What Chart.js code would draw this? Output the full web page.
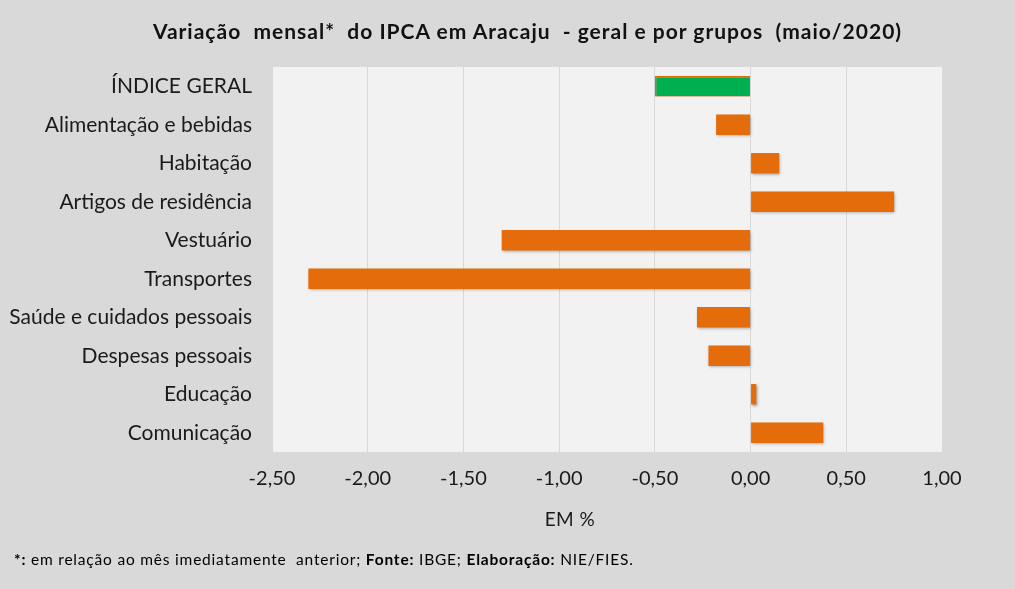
<!DOCTYPE html>
<html lang="pt-BR">
<head>
<meta charset="utf-8">
<title>IPCA Aracaju - maio/2020</title>
<script src="https://cdn.jsdelivr.net/npm/chart.js@4/dist/chart.umd.min.js"></script>
<style>
    html, body {
        margin: 0;
        padding: 0;
        background: #d9d9d9;
    }
    #wrap {
        position: relative;
        width: 1015px;
        height: 589px;
    }
    #title {
        position: absolute;
        left: 0;
        width: 1055px;
        top: 18px;
        text-align: center;
        font-family: Lato, "Open Sans", sans-serif;
        font-size: 21px;
        font-weight: bold;
        letter-spacing: 1px;
        color: #111;
        white-space: pre;
    }
    #axisTitle {
        position: absolute;
        left: 470px;
        width: 200px;
        top: 507px;
        text-align: center;
        font-family: Lato, "Open Sans", sans-serif;
        font-size: 19px;
        letter-spacing: 0.5px;
        color: #1a1a1a;
    }
    #note {
        position: absolute;
        left: 14px;
        top: 550px;
        font-family: Lato, "Open Sans", sans-serif;
        font-size: 15.5px;
        letter-spacing: 0.8px;
        color: #000;
        white-space: pre;
    }
</style>
</head>
<body>
<div id="wrap">
    <canvas id="chart" width="1015" height="589"></canvas>
    <div id="title">Variação  mensal*  do IPCA em Aracaju  - geral e por grupos  (maio/2020)</div>
    <div id="axisTitle">EM %</div>
    <div id="note"><b>*:</b> em relação ao mês imediatamente  anterior; <b>Fonte:</b> IBGE; <b>Elaboração:</b> NIE/FIES.</div>
</div>
<script>
const categories = [
    'ÍNDICE GERAL',
    'Alimentação e bebidas',
    'Habitação',
    'Artigos de residência',
    'Vestuário',
    'Transportes',
    'Saúde e cuidados pessoais',
    'Despesas pessoais',
    'Educação',
    'Comunicação'
];
const variation = [-0.50, -0.18, 0.15, 0.75, -1.30, -2.31, -0.28, -0.22, 0.03, 0.38];
const xTicks = [-2.5, -2.0, -1.5, -1.0, -0.5, 0, 0.5, 1.0];

const ORANGE = '#e46c0a';
const GREEN = '#00b050';
const TEXT = '#1a1a1a';
const FONT = 'Lato, "Open Sans", sans-serif';

// plot area background + soft shadow under bars
const plotBackground = {
    id: 'plotBackground',
    beforeDraw(chart) {
        const { ctx, chartArea } = chart;
        ctx.save();
        ctx.fillStyle = '#f2f2f2';
        ctx.fillRect(chartArea.left, chartArea.top, chartArea.right - chartArea.left, chartArea.bottom - chartArea.top);
        ctx.restore();
    },
    beforeDatasetsDraw(chart) {
        const ctx = chart.ctx;
        ctx.save();
        ctx.shadowColor = 'rgba(0, 0, 0, 0.35)';
        ctx.shadowBlur = 3;
        ctx.shadowOffsetX = 1;
        ctx.shadowOffsetY = 1.5;
    },
    afterDatasetsDraw(chart) {
        chart.ctx.restore();
    }
};

new Chart(document.getElementById('chart'), {
    type: 'bar',
    data: {
        labels: categories,
        datasets: [{
            data: variation,
            backgroundColor: variation.map((v, i) => i === 0 ? GREEN : ORANGE),
            borderColor: ORANGE,
            borderWidth: variation.map((v, i) => i === 0 ? 1.5 : 0),
            categoryPercentage: 1,
            barPercentage: 0.53
        }]
    },
    options: {
        indexAxis: 'y',
        responsive: false,
        animation: false,
        layout: {
            padding: { left: 0, right: 73, top: 67, bottom: 50 }
        },
        plugins: {
            legend: { display: false },
            tooltip: { enabled: false },
            title: { display: false }
        },
        scales: {
            x: {
                min: -2.5,
                max: 1.0,
                afterBuildTicks(scale) {
                    scale.ticks = xTicks.map(v => ({ value: v }));
                },
                afterFit(scale) {
                    scale.height = 87;
                },
                grid: {
                    color: '#d9d9d9',
                    lineWidth: 1,
                    drawTicks: false
                },
                border: { display: false },
                ticks: {
                    color: TEXT,
                    padding: 15,
                    font: { family: FONT, size: 20 },
                    callback: v => v.toFixed(2).replace('.', ',')
                }
            },
            y: {
                afterFit(scale) {
                    scale.width = 272;
                },
                grid: { display: false },
                border: { display: false },
                ticks: {
                    color: TEXT,
                    padding: 12,
                    font: { family: FONT, size: 21 }
                }
            }
        }
    },
    plugins: [plotBackground]
});
</script>
</body>
</html>
